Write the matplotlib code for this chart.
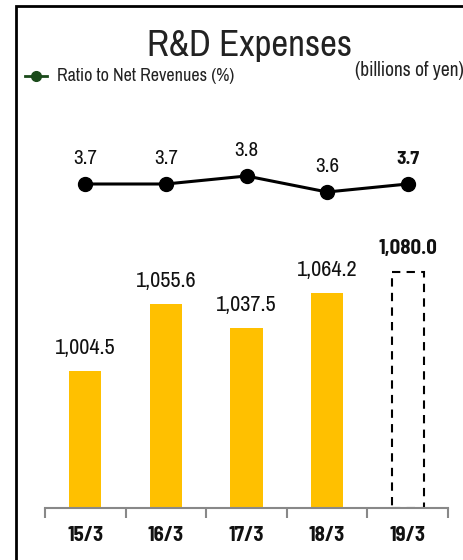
import matplotlib
matplotlib.use("Agg")
import matplotlib.pyplot as plt
import matplotlib.patches as patches
import numpy as np

plt.rcParams['font.family'] = ['Archivo Narrow', 'DejaVu Sans']
BOLD = ['Barlow Semi Condensed', 'DejaVu Sans']

# data
years = ["15/3", "16/3", "17/3", "18/3", "19/3"]
expenses = [1004.5, 1055.6, 1037.5, 1064.2, 1080.0]
exp_labels = ["1,004.5", "1,055.6", "1,037.5", "1,064.2", "1,080.0"]
ratio = [3.7, 3.7, 3.8, 3.6, 3.7]
forecast = [False, False, False, False, True]

W, H = 463, 560
fig = plt.figure(figsize=(W / 100, H / 100), dpi=100)

# outer frame (runs off the right and bottom edges)
frame = patches.Rectangle((16 / W, -0.1), 2.0, 1 - 6 / H + 0.1, transform=fig.transFigure,
                          fill=False, edgecolor='black', linewidth=2, clip_on=False)
fig.patches.append(frame)

ax = fig.add_axes([45 / W, 1 - 508 / H, 403 / W, 408 / H])
x = np.arange(len(years))

for i in range(len(years)):
    if forecast[i]:
        ax.bar(x[i], expenses[i] - 900, bottom=900, width=0.4, facecolor='none',
               edgecolor='black', linestyle=(0, (4, 3)), linewidth=1.5)
        ax.text(x[i], expenses[i] + 11, exp_labels[i], ha='center', va='bottom', fontsize=15,
                family=BOLD, fontweight='bold', color='#111111')
    else:
        ax.bar(x[i], expenses[i] - 900, bottom=900, width=0.4, color='#FFC000')
        ax.text(x[i], expenses[i] + 10, exp_labels[i], ha='center', va='bottom', fontsize=16,
                color='#111111')

ax.set_xlim(-0.5, 4.5)
ax.set_ylim(900, 900 + 408 / 1.31)

for s in ['top', 'right', 'left']:
    ax.spines[s].set_visible(False)
ax.spines['bottom'].set_color('#888888')
ax.spines['bottom'].set_linewidth(1.5)
ax.set_yticks([])
ax.set_xticks(x)
ax.set_xticklabels(years, fontsize=15, fontweight='bold', family=BOLD, color='#111111')
ax.tick_params(axis='x', which='major', length=0, pad=13)
ax.set_xticks(np.arange(-0.5, 5, 1), minor=True)
ax.tick_params(axis='x', which='minor', length=7, width=1.5, color='#888888', direction='out')

# ratio line
ax2 = ax.twinx()
ax2.set_ylim(3.7 - 324 / 80, 3.7 - 324 / 80 + 408 / 80)
ax2.axis('off')
ax2.plot(x, ratio, color='black', linewidth=2.2, marker='o', markersize=10)
for i in range(len(years)):
    if forecast[i]:
        ax2.text(x[i], ratio[i] + 0.2, f"{ratio[i]:.1f}", ha='center', va='bottom', fontsize=14,
                 family=BOLD, fontweight='bold', color='#111111')
    else:
        ax2.text(x[i], ratio[i] + 0.2, f"{ratio[i]:.1f}", ha='center', va='bottom', fontsize=15,
                 color='#111111')

# title, legend, unit
fig.text(250 / W, 1 - 45 / H, "R&D Expenses", ha='center', va='center', fontsize=26.5, color='#222222')
leg_line = plt.Line2D([25 / W, 36 / W, 47 / W], [1 - 76 / H] * 3, color='#1a4a1a',
                      linewidth=2, marker='o', markersize=7, markevery=[1],
                      transform=fig.transFigure)
fig.add_artist(leg_line)
fig.text(57 / W, 1 - 76 / H, "Ratio to Net Revenues (%)", ha='left', va='center', fontsize=13,
         color='#222222')
fig.text(355 / W, 1 - 71 / H, "(billions of yen)", ha='left', va='center', fontsize=14,
         color='#222222')

fig.savefig("out.png", dpi=100)
